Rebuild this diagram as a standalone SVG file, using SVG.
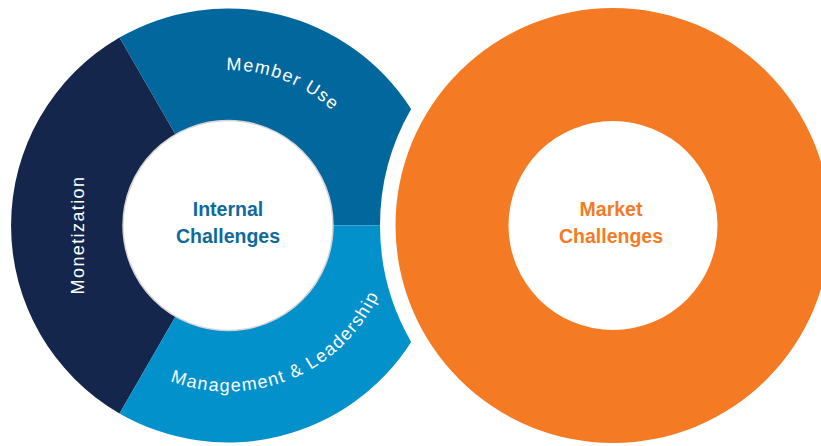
<svg xmlns="http://www.w3.org/2000/svg" width="821" height="446" viewBox="0 0 821 446">
  <style>
    .seg-label { font-family: "Liberation Sans", Arial, sans-serif; font-size: 18px; fill: #ffffff; letter-spacing: 1.4px; }
    .center-label { font-family: "Liberation Sans", Arial, sans-serif; font-size: 19.5px; font-weight: bold; text-anchor: middle; }
  </style>
  <defs>
    <path id="arcMember" d="M 175.0 79.8 A 154 154 0 0 1 364.9 152.7"/>
    <path id="arcMgmt" d="M 84.2 308.5 A 166 166 0 0 0 388.3 182.5"/>
  </defs>
  <rect width="821" height="446" fill="#ffffff"/>

  <g id="monetization">
    <path d="M 119.5 413.4 A 217 217 0 0 1 119.5 37.6 L 175.5 134.6 A 105 105 0 0 0 175.5 316.4 Z" fill="#14264b"/>
    <text class="seg-label" transform="translate(84,235) rotate(-90)" text-anchor="middle">Monetization</text>
  </g>

  <g id="member-use">
    <path d="M 119.5 37.6 A 217 217 0 0 1 411.15 109.1 A 233 233 0 0 0 380 225.5 L 333 225.5 A 105 105 0 0 0 175.5 134.6 Z" fill="#02679c"/>
    <text class="seg-label"><textPath href="#arcMember" startOffset="50%" text-anchor="middle">Member Use</textPath></text>
  </g>

  <g id="management-leadership">
    <path d="M 333 225.5 L 380 225.5 A 233 233 0 0 0 411.15 341.9 A 217 217 0 0 1 119.5 413.4 L 175.5 316.4 A 105 105 0 0 0 333 225.5 Z" fill="#0391cc"/>
    <text class="seg-label"><textPath href="#arcMgmt" startOffset="50%" text-anchor="middle">Management &amp; Leadership</textPath></text>
  </g>

  <g id="internal-challenges">
    <circle cx="228" cy="225.5" r="105" fill="#ffffff" stroke="#d4d4d4" stroke-width="1.5"/>
    <text class="center-label" fill="#0f6a9c"><tspan x="228" y="216">Internal</tspan><tspan x="228" y="243">Challenges</tspan></text>
  </g>

  <g id="market-challenges">
    <path d="M 395.5 225.5 A 217.5 217.5 0 1 1 830.5 225.5 A 217.5 217.5 0 1 1 395.5 225.5 Z M 508.5 225.5 A 104.5 104.5 0 1 0 717.5 225.5 A 104.5 104.5 0 1 0 508.5 225.5 Z" fill="#f47b24" fill-rule="evenodd"/>
    <text class="center-label" fill="#f47b24"><tspan x="611" y="216">Market</tspan><tspan x="611" y="243">Challenges</tspan></text>
  </g>

  <g id="connectors"></g>
</svg>
